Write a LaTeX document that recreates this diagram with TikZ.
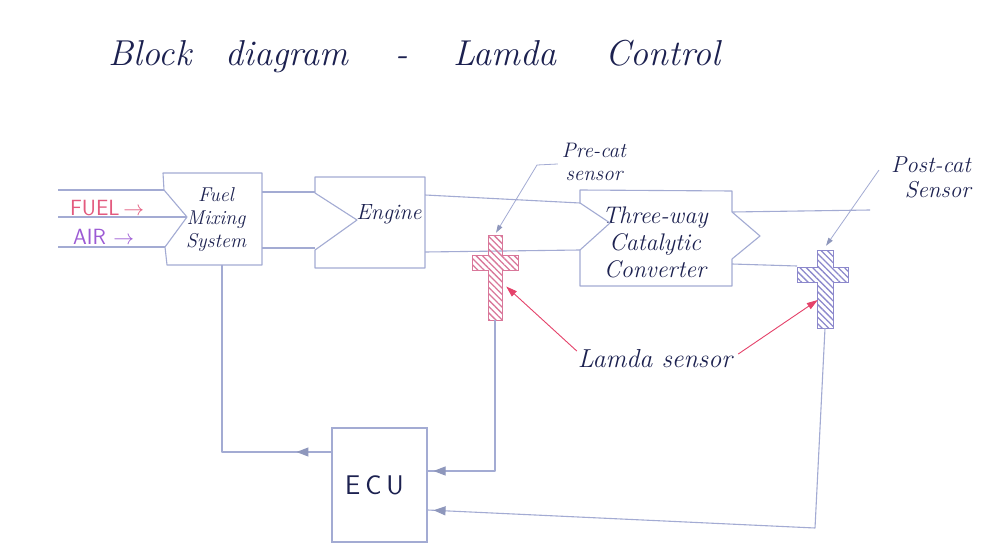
\documentclass[tikz,border=0pt]{standalone}
\usetikzlibrary{arrows.meta,patterns.meta,decorations.markings,calc}
\definecolor{pen}{HTML}{1C2150}
\definecolor{pipe}{HTML}{A3ABD3}
\definecolor{tipc}{HTML}{8E97BC}
\definecolor{redarr}{HTML}{E5426A}
\definecolor{fuelc}{HTML}{E35A7E}
\definecolor{airc}{HTML}{9C5AD4}
\definecolor{hatchpink}{HTML}{D9779A}
\definecolor{hatchblue}{HTML}{8C88CC}
\begin{document}
\begin{tikzpicture}[x=1pt,y=-1pt,
  pipeline/.style={draw=pipe, line width=1.1pt, line join=round},
  hand/.style={text=pen, align=center, inner sep=0pt, font=\itshape\fontsize{19}{23}\selectfont},
  titleword/.style={text=pen, inner sep=0pt, anchor=base, font=\itshape\fontsize{36}{42}\selectfont},
  area/.style={draw=none, inner sep=0pt},
  tipat/.style={postaction={decorate}, decoration={markings,
     mark=at position #1 with {\arrow{Triangle[length=12pt,width=9pt,color=tipc]}}}},
  leader/.style={draw=pipe, line width=0.8pt, -{Triangle[length=8pt,width=5pt,color=tipc]}},
  redline/.style={draw=redarr, line width=0.9pt, -{Triangle[length=11pt,width=7pt,color=redarr]}},
]
\useasboundingbox (0,0) rectangle (995,556);
\fill[white] (0,0) rectangle (995,556);

% title
\node[titleword] (t1) at (150,66) {Block};
\node[titleword] (t2) at (287,66) {diagram};
\node[titleword] (t3) at (402,66) {-};
\node[titleword] (t4) at (505,66) {Lamda};
\node[titleword] (t5) at (663,66) {Control};

% block areas
\node[area, minimum width=99pt, minimum height=92pt] (fuel) at (212.5,219) {};
\node[area, minimum width=110pt, minimum height=91pt] (engine) at (370,222.5) {};
\node[area, minimum width=152pt, minimum height=95pt] (conv) at (656,238.5) {};
\node[draw=pipe, line width=1.1pt, minimum width=95pt, minimum height=114pt, inner sep=0pt,
      text=pen, font=\sffamily\fontsize{27}{30}\selectfont] (ecu) at (379.5,485) {E\kern5pt C\kern5pt U\kern10pt};

% texts in blocks
\node[hand, font=\itshape\fontsize{20}{23}\selectfont] (fueltxt) at (216,220) {Fuel\\Mixing\\System};
\node[hand, font=\itshape\fontsize{22}{24}\selectfont] (enginetxt) at (389,214) {Engine};
\node[hand, font=\itshape\fontsize{24}{27}\selectfont] (convtxt) at (655,242) {Three-way\\Catalytic\\Converter};

% inputs
\node[anchor=west, inner sep=0pt, text=fuelc, font=\sffamily\fontsize{22}{24}\selectfont] (fuelin) at (70,208) {FUEL\,$\rightarrow$};
\node[anchor=west, inner sep=0pt, text=airc, font=\sffamily\fontsize{22}{24}\selectfont] (airin) at (73,237) {AIR\,\,$\rightarrow$};

% block outlines
\draw[pipeline] (163,173) -- (262,173) -- (262,265) -- (167,265) -- (165,247) -- (187,217) -- (164,190) -- cycle;
\draw[pipeline] (315,177) -- (425,177) -- (425,268) -- (315,268) -- (315,250) -- (357,220) -- (315,193) -- cycle;
\draw[pipeline] (580,190) -- (732,191) -- (732,212) -- (760,236) -- (732,259) -- (732,286) -- (580,286) -- (580,250) -- (610,223) -- (580,203) -- cycle;

% pipe lines
\draw[pipeline] (58,190) -- (164,190);
\draw[pipeline] (58,217) -- (187,217);
\draw[pipeline] (58,247) -- (165,247);
\draw[pipeline] (fuel.north east |- 0,192) -- (engine.north west |- 0,192);
\draw[pipeline] (fuel.south east |- 0,248) -- (engine.south west |- 0,248);
\draw[pipeline] (engine.north east |- 0,195) -- (580,203);
\draw[pipeline] (engine.south east |- 0,252) -- (580,250);
\coordinate (pipeend) at (870,210);
\draw[pipeline] (732,212) -- (pipeend);
\draw[pipeline] (732,264) -- (797,266);

% sensors
\node[area, minimum width=14pt, minimum height=85pt] (pre) at (495,277.5) {};
\node[area, minimum width=16pt, minimum height=78pt] (post) at (825,289) {};
\draw[draw=hatchpink, line width=0.8pt, pattern={Lines[angle=-45,distance=4.5pt,line width=1.3pt]}, pattern color=hatchpink]
  (488,235) -- (502,235) -- (502,255) -- (518,255) -- (518,270) -- (502,270) -- (502,320) -- (488,320)
  -- (488,270) -- (472,270) -- (472,255) -- (488,255) -- cycle;
\draw[draw=hatchblue, line width=0.8pt, pattern={Lines[angle=-45,distance=4.5pt,line width=1.3pt]}, pattern color=hatchblue]
  (817,250) -- (833,250) -- (833,267) -- (848,267) -- (848,282) -- (833,282) -- (833,328) -- (817,328)
  -- (817,282) -- (797,282) -- (797,267) -- (817,267) -- cycle;

% sensor labels
\node[hand, font=\itshape\fontsize{21}{23}\selectfont] (precat) at (594,162) {Pre-cat\\sensor};
\node[hand, align=right, font=\itshape\fontsize{23}{25}\selectfont] (postcat) at (931,177) {Post-cat\\Sensor};
\node[hand, font=\itshape\fontsize{26}{28}\selectfont] (lamda) at (655,359) {Lamda sensor};

\draw[leader] ($(precat.west)+(-4,2)$) -- (537,165) -- ($(pre.north)+(1,-2)$);
\draw[leader] ($(postcat.west)+(-12,-7)$) -- ($(post.north)+(1,-4)$);
\draw[redline] ($(lamda.west)+(-1,-8)$) -- ($(pre.east)+(4,9)$);
\draw[redline] ($(lamda.east)+(6,-5)$) -- ($(post.west)+(1,11)$);

% feedback connections
\coordinate (fbend) at (222,452);
\draw[pipeline, tipat=35pt] (ecu.west |- fbend) -- (fbend) -- (fbend |- fuel.south);
\coordinate (prebend) at (495,471);
\draw[pipeline, tipat=-6pt] (pre.south) -- (prebend) -- (ecu.east |- prebend);
\coordinate (postbend) at (815,528);
\coordinate (ecuin) at ($(ecu.east)+(0,25)$);
\draw[pipeline, tipat=-6pt] (post.south) -- (postbend) -- (ecuin);
\end{tikzpicture}
\end{document}
